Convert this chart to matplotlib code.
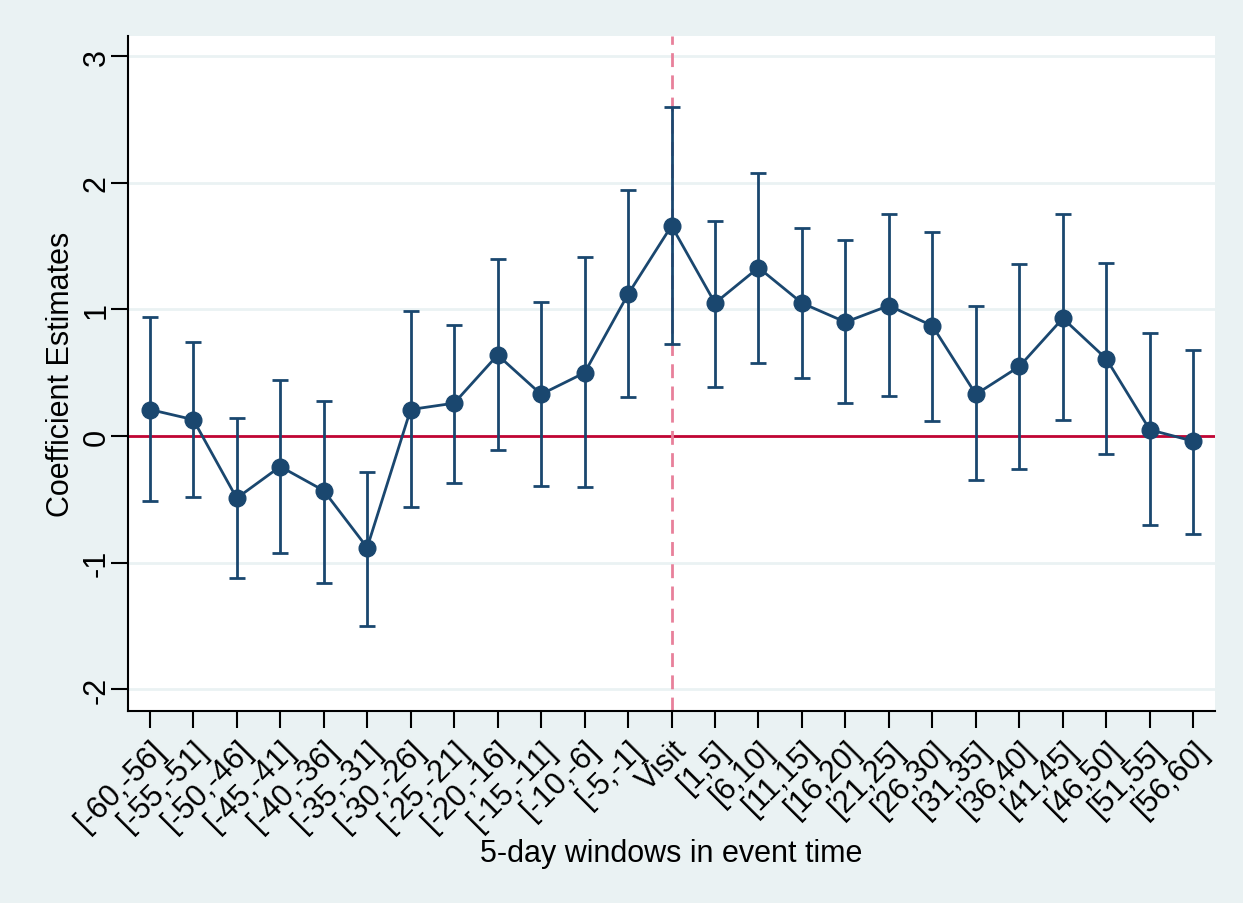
import matplotlib
matplotlib.use('Agg')
import matplotlib.pyplot as plt

plt.rcParams['font.family'] = ['Liberation Sans', 'DejaVu Sans']

labels = ['[-60,-56]', '[-55,-51]', '[-50,-46]', '[-45,-41]', '[-40,-36]', '[-35,-31]',
          '[-30,-26]', '[-25,-21]', '[-20,-16]', '[-15,-11]', '[-10,-6]', '[-5,-1]',
          'Visit', '[1,5]', '[6,10]', '[11,15]', '[16,20]', '[21,25]', '[26,30]',
          '[31,35]', '[36,40]', '[41,45]', '[46,50]', '[51,55]', '[56,60]']
coef = [0.21, 0.13, -0.49, -0.24, -0.43, -0.88, 0.21, 0.26, 0.64, 0.33, 0.50, 1.12,
        1.66, 1.05, 1.33, 1.05, 0.90, 1.03, 0.87, 0.33, 0.55, 0.93, 0.61, 0.05, -0.04]
upper = [0.94, 0.74, 0.14, 0.44, 0.28, -0.28, 0.99, 0.88, 1.40, 1.06, 1.41, 1.94,
         2.60, 1.70, 2.08, 1.64, 1.55, 1.75, 1.61, 1.03, 1.36, 1.75, 1.37, 0.81, 0.68]
lower = [-0.51, -0.48, -1.12, -0.92, -1.16, -1.50, -0.56, -0.37, -0.11, -0.39, -0.40, 0.31,
         0.73, 0.39, 0.58, 0.46, 0.26, 0.32, 0.12, -0.35, -0.26, 0.13, -0.14, -0.70, -0.77]

bg = '#eaf2f3'
navy = '#1a476f'

fig = plt.figure(figsize=(12.43, 9.04), dpi=100, facecolor=bg)
ax = fig.add_axes([0.103, 0.2124, 0.8745, 0.7466])
ax.set_facecolor('white')

x = list(range(len(labels)))
for yv in [-2, -1, 0, 1, 2, 3]:
    ax.axhline(yv, color=bg, lw=2, zorder=0)
ax.axhline(0, color='#c10534', lw=2, zorder=1)
ax.axvline(12, color='#e8809a', lw=2, ls=(0, (5, 3)), zorder=1)

ax.errorbar(x, coef, yerr=[[c - l for c, l in zip(coef, lower)], [u - c for c, u in zip(coef, upper)]],
            fmt='none', ecolor=navy, elinewidth=2, capsize=6, capthick=2, zorder=2)
ax.plot(x, coef, color=navy, lw=2, marker='o', ms=12, zorder=3)

ax.set_xlim(-0.5, 24.5)
ax.set_ylim(-2.17, 3.158)
ax.set_xticks(x)
ax.set_xticklabels(labels, rotation=45, ha='right', rotation_mode='anchor', fontsize=22)
ax.set_yticks([-2, -1, 0, 1, 2, 3])
ax.set_yticklabels(['-2', '-1', '0', '1', '2', '3'], rotation=90, va='center', fontsize=22)
ax.tick_params(length=12, width=1.5, direction='out')
ax.tick_params(axis='x', pad=5)
ax.tick_params(axis='y', pad=0)

ax.spines['top'].set_visible(False)
ax.spines['right'].set_visible(False)
ax.spines['left'].set_linewidth(1.5)
ax.spines['bottom'].set_linewidth(1.5)

ax.set_xlabel('5-day windows in event time', fontsize=22, labelpad=1)
ax.set_ylabel('Coefficient Estimates', fontsize=22, labelpad=4)

fig.savefig('out.png', dpi=100, facecolor=bg)
